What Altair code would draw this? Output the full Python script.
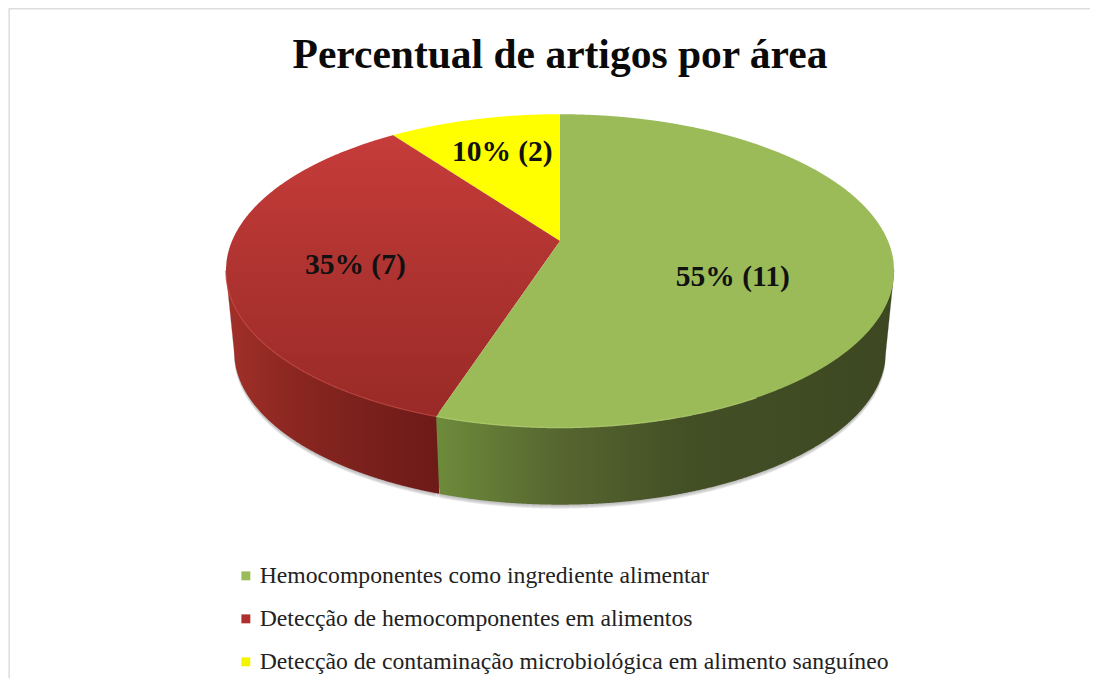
import numpy as np
import pandas as pd
import altair as alt

title_text = "Percentual de artigos por área"
categories = ["Hemocomponentes como ingrediente alimentar",
              "Detecção de hemocomponentes em alimentos",
              "Detecção de contaminação microbiológica em alimento sanguíneo"]
counts = [11, 7, 2]
percents = [55, 35, 10]
legend_colors = ["#9BBB59", "#B02F2C", "#F4F400"]

# perspective of the tilted disc, as measured on the picture
CX, CY = 560.0, 241.0
SX, SY, TILT = 328.0, 151.0, 0.191
WALL_SCALE, WALL_DROP = 0.975, 81.7
X_DOM, Y_DOM = [8, 1090], [678, 8]


def top(theta):
    th = np.radians(theta)
    d = 1 + TILT * np.cos(th)
    return CX + SX * np.sin(th) / d, CY - SY * np.cos(th) / d


def bottom(theta):
    th = np.radians(theta)
    d = 1 + TILT * np.cos(th)
    return (CX + WALL_SCALE * SX * np.sin(th) / d,
            CY + WALL_DROP - WALL_SCALE * SY * np.cos(th) / d)


def arc(fn, a, b, n=240):
    x, y = fn(np.linspace(a, b, n))
    return list(zip(x, y))


def region(upper, lower, n=500):
    ux, uy = map(np.array, zip(*upper))
    lx, ly = map(np.array, zip(*lower))
    xs = np.linspace(max(ux.min(), lx.min()), min(ux.max(), lx.max()), n)
    return pd.DataFrame({"x": xs, "y": np.interp(xs, ux, uy), "y2": np.interp(xs, lx, ly)})


# wedge limits (clockwise from 12 o'clock) come from the counts
total = sum(counts)
g_end = 360.0 * counts[0] / total
r_end = g_end + 360.0 * counts[1] / total
TH_R = np.degrees(np.arccos(-TILT))
TH_L = 360 - TH_R
apex = (CX, CY)

yellow_face = region(arc(top, r_end, 360), [top(r_end), apex])
red_face = region(arc(top, TH_L, r_end) + [apex],
                  arc(top, TH_L, g_end) + [apex])
green_left = region([top(g_end), apex], arc(top, g_end, 180))
green_right = region(arc(top, 0, TH_R), arc(top, 180, TH_R))

rx, ry = top(TH_L)
grx, gry = top(TH_R)
red_wall = region([(rx, ry), (bottom(g_end)[0], ry)],
                  [(rx, ry)] + arc(bottom, TH_L, g_end))
green_wall = region([top(g_end), (grx, gry)],
                    [top(g_end), bottom(g_end)] + arc(bottom, g_end, TH_R) + [(grx, gry)])


def shifted(df, dy):
    out = df.copy()
    out["y"] = out["y2"] + dy
    out["y2"] = out["y2"] - 2
    return out


x_enc = alt.X("x:Q", scale=alt.Scale(domain=X_DOM), axis=None)
y_enc = alt.Y("y:Q", scale=alt.Scale(domain=Y_DOM), axis=None)


def grad(stops, horizontal=False):
    return alt.Gradient(
        gradient="linear",
        stops=[alt.GradientStop(offset=o, color=c) for o, c in stops],
        x1=0, y1=0, x2=1 if horizontal else 0, y2=0 if horizontal else 1)


def area(df, fill, **kw):
    return alt.Chart(df).mark_area(color=fill, strokeWidth=0, **kw).encode(
        x=x_enc, y=y_enc, y2="y2:Q")


def rim(points, color, opacity):
    xs, ys = zip(*points)
    return alt.Chart(pd.DataFrame({"x": xs, "y": ys})).mark_line(
        color=color, strokeWidth=1.2, opacity=opacity).encode(x=x_enc, y=y_enc)


# --- legend carrier
legend_df = pd.DataFrame({"cat": categories, "x": [CX] * 3, "y": [CY] * 3})
legend_layer = alt.Chart(legend_df).mark_square(size=64, opacity=1).encode(
    x=x_enc, y=y_enc,
    color=alt.Color("cat:N", sort=categories,
                    scale=alt.Scale(domain=categories, range=legend_colors),
                    legend=alt.Legend(orient="none", legendX=226, legendY=556, title=None,
                                      symbolType="square", symbolSize=80, symbolStrokeWidth=0,
                                      symbolOpacity=1, labelFont="Liberation Serif",
                                      labelFontSize=23.7, labelColor="#222222", labelLimit=800,
                                      labelOffset=2, rowPadding=18, labelOpacity=1)))

# --- soft shadow below the wall
shadow_base = pd.concat([red_wall, green_wall]).sort_values("x")
shadows = [area(shifted(shadow_base, d), "#9a9a9a", opacity=0.22) for d in (1, 2, 3, 4)]

# --- walls
red_wall_fill = grad([(0, "#A23029"), (0.33, "#8A2620"), (0.62, "#7C211D"), (1, "#6D1A18")], True)
green_wall_fill = grad([(0, "#6E8B3B"), (0.27, "#566630"), (0.55, "#434F25"), (1, "#3D4822")], True)
walls = [area(red_wall, red_wall_fill), area(green_wall, green_wall_fill)]

# --- top faces
red_fill = grad([(0, "#C63C3A"), (0.5, "#AE3330"), (1, "#992A27")])
faces = [area(yellow_face, "#FFFF00"), area(red_face, red_fill),
         area(green_left, "#9BBB59"), area(green_right, "#9BBB59")]

rims = [rim(arc(top, TH_L, g_end), "#C94E48", 0.7),
        rim(arc(top, g_end, 150), "#B4CF72", 0.8)]

# --- value labels
label_radius = [0.525, 0.62, 0.635]
label_dy = [23, 9, -7]
mids = [g_end / 2, (g_end + r_end) / 2, (r_end + 360) / 2]
lx, ly = [], []
for m, r, dy in zip(mids, label_radius, label_dy):
    th = np.radians(m)
    d = 1 + TILT * r * np.cos(th)
    lx.append(CX + SX * r * np.sin(th) / d)
    ly.append(CY - SY * r * np.cos(th) / d + dy)
label_df = pd.DataFrame({"x": lx, "y": ly,
                         "t": [f"{p}% ({n})" for p, n in zip(percents, counts)]})
labels = alt.Chart(label_df).mark_text(font="Liberation Serif", fontWeight="bold", fontSize=29.5,
                                       color="#111111", baseline="middle", align="center").encode(
    x=x_enc, y=y_enc, text="t:N")

# --- partial frame
frame_top = alt.Chart(pd.DataFrame({"x": [9], "x2": [1098], "y": [8.6]})).mark_rule(
    color="#DEDEDE", strokeWidth=1.6).encode(x=x_enc, x2="x2:Q", y=y_enc)
frame_left = alt.Chart(pd.DataFrame({"x": [9.2], "y": [8], "y2": [678]})).mark_rule(
    color="#DEDEDE", strokeWidth=1.6).encode(x=x_enc, y=y_enc, y2="y2:Q")

chart = alt.layer(
    legend_layer, *shadows, *walls, *faces, *rims, labels, frame_top, frame_left
).properties(
    width=1082, height=670, padding=0, background="white",
    autosize=alt.AutoSizeParams(type="none"),
    title=alt.TitleParams(title_text, font="Liberation Serif", fontWeight="bold", fontSize=41.5,
                          color="#0a0a0a", anchor="middle", frame="group", dx=11, dy=102,
                          baseline="alphabetic", offset=0),
).configure_view(stroke=None)

chart.save("out.html", embed_options={"renderer": "svg", "actions": False})
